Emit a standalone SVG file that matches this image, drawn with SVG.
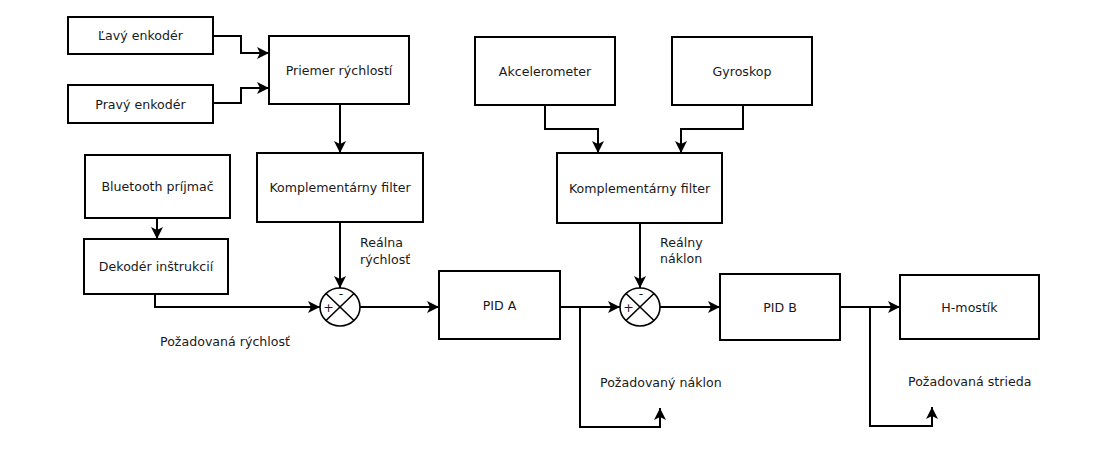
<svg xmlns="http://www.w3.org/2000/svg" width="1098" height="463" viewBox="0 0 1098 463">
<style>
.box{fill:#fff;stroke:#000;stroke-width:2}
.t{font-family:"DejaVu Sans",sans-serif;font-size:12.6px;fill:#1a1a1a;text-anchor:middle}
.l{font-family:"DejaVu Sans",sans-serif;font-size:12.6px;fill:#1a1a1a}
.c{fill:none;stroke:#000;stroke-width:2}
.s{fill:#fff;stroke:#000;stroke-width:1.6}
.x{stroke:#000;stroke-width:1.6}
</style>
<defs>
<marker id="a" markerUnits="userSpaceOnUse" markerWidth="13" markerHeight="13" refX="12" refY="6" orient="auto">
<path d="M0,0 L12,6 L0,12 L3,6 z" fill="#000"/>
</marker>
</defs>
<rect width="1098" height="463" fill="#fff"/>
<g id="connectors">
<path class="c" d="M213,36 H241 V53 H269" marker-end="url(#a)"/>
<path class="c" d="M213,103 H241 V88 H269" marker-end="url(#a)"/>
<path class="c" d="M340,104 V153" marker-end="url(#a)"/>
<path class="c" d="M157,218 V239" marker-end="url(#a)"/>
<path class="c" d="M340,222 V288" marker-end="url(#a)"/>
<path class="c" d="M155,294 V307 H320" marker-end="url(#a)"/>
<path class="c" d="M360,307 H439" marker-end="url(#a)"/>
<path class="c" d="M545,105 V129 H598 V153" marker-end="url(#a)"/>
<path class="c" d="M743,105 V129 H681 V153" marker-end="url(#a)"/>
<path class="c" d="M640,223 V288" marker-end="url(#a)"/>
<path class="c" d="M560,307 H620" marker-end="url(#a)"/>
<path class="c" d="M580,307 V427 H660 V408" marker-end="url(#a)"/>
<path class="c" d="M660,307 H720" marker-end="url(#a)"/>
<path class="c" d="M840,307 H900" marker-end="url(#a)"/>
<path class="c" d="M870,307 V426 H932 V407" marker-end="url(#a)"/>
</g>
<g id="lavy"><rect class="box" x="68" y="17" width="145" height="37"/><text class="t" x="140.5" y="40">Ľavý enkodér</text></g>
<g id="pravy"><rect class="box" x="68" y="85" width="145" height="38"/><text class="t" x="140.5" y="108.5">Pravý enkodér</text></g>
<g id="priemer"><rect class="box" x="269" y="36" width="140" height="68"/><text class="t" x="339" y="74.5">Priemer rýchlostí</text></g>
<g id="bluetooth"><rect class="box" x="85" y="155" width="145" height="63"/><text class="t" x="157.5" y="191">Bluetooth príjmač</text></g>
<g id="dekoder"><rect class="box" x="84" y="239" width="144" height="55"/><text class="t" x="156" y="271">Dekodér inštrukcií</text></g>
<g id="komp1"><rect class="box" x="257" y="153" width="166" height="69"/><text class="t" x="340" y="192">Komplementárny filter</text></g>
<g id="akcel"><rect class="box" x="475" y="37" width="140" height="68"/><text class="t" x="545" y="75.5">Akcelerometer</text></g>
<g id="gyro"><rect class="box" x="672" y="37" width="140" height="68"/><text class="t" x="742" y="75.5">Gyroskop</text></g>
<g id="komp2"><rect class="box" x="557" y="153" width="165" height="70"/><text class="t" x="639.5" y="192.5">Komplementárny filter</text></g>
<g id="pida"><rect class="box" x="439" y="271" width="121" height="68"/><text class="t" x="499.5" y="310">PID A</text></g>
<g id="pidb"><rect class="box" x="720" y="274" width="120" height="66"/><text class="t" x="780" y="311.5">PID B</text></g>
<g id="hmostik"><rect class="box" x="900" y="275" width="139" height="64"/><text class="t" x="969.5" y="311.5">H-mostík</text></g>
<g id="sum1">
<ellipse class="s" cx="340" cy="307" rx="20" ry="19"/>
<line class="x" x1="326" y1="293.5" x2="354" y2="320.5"/>
<line class="x" x1="354" y1="293.5" x2="326" y2="320.5"/>
<text class="t" x="328.5" y="311.5">+</text>
<text class="t" x="341" y="298">-</text>
</g>
<g id="sum2">
<ellipse class="s" cx="640" cy="307" rx="20" ry="19"/>
<line class="x" x1="626" y1="293.5" x2="654" y2="320.5"/>
<line class="x" x1="654" y1="293.5" x2="626" y2="320.5"/>
<text class="t" x="628.5" y="311.5">+</text>
<text class="t" x="641" y="298">-</text>
</g>
<g id="labels">
<text class="l" x="360" y="247">Reálna</text>
<text class="l" x="360" y="264">rýchlosť</text>
<text class="l" x="160" y="346">Požadovaná rýchlosť</text>
<text class="l" x="660" y="247">Reálny</text>
<text class="l" x="660" y="263">náklon</text>
<text class="l" x="600" y="387">Požadovaný náklon</text>
<text class="l" x="908" y="386">Požadovaná strieda</text>
</g>
</svg>
